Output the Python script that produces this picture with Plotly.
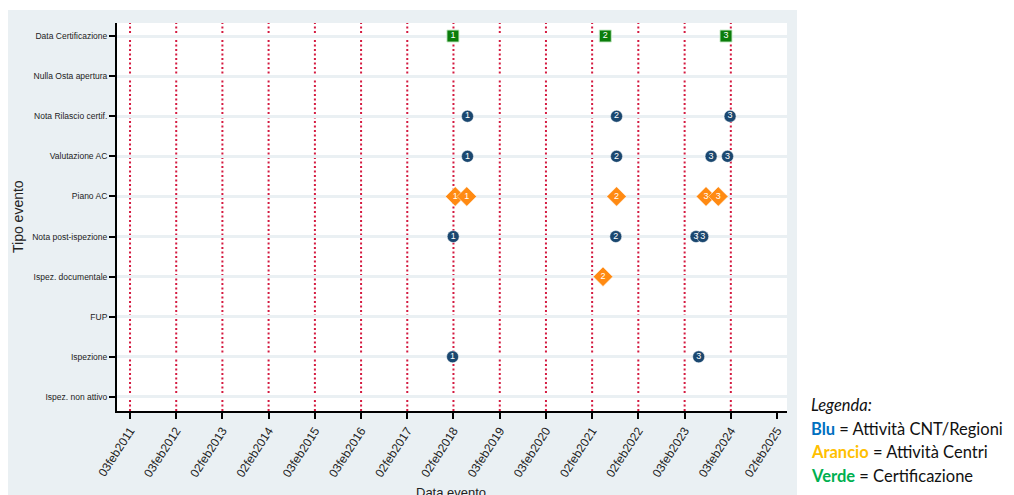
import plotly.graph_objects as go

# ---- categories (bottom to top) ----
tipi_evento = ["Ispez. non attivo", "Ispezione", "FUP", "Ispez. documentale",
               "Nota post-ispezione", "Piano AC", "Valutazione AC",
               "Nota Rilascio certif.", "Nulla Osta apertura", "Data Certificazione"]

# ---- x ticks ----
tick_date = ["2011-02-03", "2012-02-03", "2013-02-02", "2014-02-02", "2015-02-03",
             "2016-02-03", "2017-02-02", "2018-02-02", "2019-02-03", "2020-02-03",
             "2021-02-02", "2022-02-02", "2023-02-03", "2024-02-03", "2025-02-02"]
tick_label = ["03feb2011", "03feb2012", "02feb2013", "02feb2014", "03feb2015",
              "03feb2016", "02feb2017", "02feb2018", "03feb2019", "03feb2020",
              "02feb2021", "02feb2022", "03feb2023", "03feb2024", "02feb2025"]
linee_rif = tick_date[:-1]   # red dotted reference lines
x_range = ["2010-10-23", "2025-04-22"]

# ---- Blu: Attività CNT/Regioni ----
blu_tipo = ["Nota Rilascio certif.", "Nota Rilascio certif.", "Nota Rilascio certif.",
            "Valutazione AC", "Valutazione AC", "Valutazione AC", "Valutazione AC",
            "Nota post-ispezione", "Nota post-ispezione", "Nota post-ispezione", "Nota post-ispezione",
            "Ispezione", "Ispezione"]
blu_data = ["2018-05-24", "2021-08-14", "2024-01-28",
            "2018-05-24", "2021-08-14", "2023-08-31", "2024-01-08",
            "2018-01-31", "2021-08-08", "2023-05-04", "2023-06-26",
            "2018-01-26", "2023-05-25"]
blu_num = ["1", "2", "3", "1", "2", "3", "3", "1", "2", "3", "3", "1", "3"]

# ---- Arancio: Attività Centri ----
arancio_tipo = ["Piano AC", "Piano AC", "Piano AC", "Piano AC", "Piano AC", "Ispez. documentale"]
arancio_data = ["2018-02-16", "2018-05-18", "2021-08-14", "2023-07-22", "2023-10-27", "2021-04-29"]
arancio_num = ["1", "1", "2", "3", "3", "2"]

# ---- Verde: Certificazione ----
verde_tipo = ["Data Certificazione", "Data Certificazione", "Data Certificazione"]
verde_data = ["2018-01-29", "2021-05-17", "2023-12-27"]
verde_num = ["1", "2", "3"]

# ---- layout geometry (page pixels; page body has an 8px margin) ----
OFF = 8
W, H = 1014 - OFF, 495 - OFF
PL, PR, PT, PB = 117 - OFF, 787 - OFF, 23 - OFF, 411 - OFF
pw, ph = PR - PL, PB - PT


def px_x(px):
    return (px - OFF - PL) / pw


def px_y(py):
    return (PB - (py - OFF)) / ph


BG = "#eaf0f3"
fig = go.Figure()

num_font = dict(family="Liberation Sans, Arial", size=9, color="white")

fig.add_trace(go.Scatter(
    x=blu_data, y=blu_tipo, mode="markers+text", text=blu_num,
    textposition="middle center", textfont=num_font,
    marker=dict(symbol="circle", size=12, color="#1a476f",
                line=dict(color="rgba(255,255,255,0.6)", width=0.8)),
    hoverinfo="x+y", showlegend=False))

fig.add_trace(go.Scatter(
    x=arancio_data, y=arancio_tipo, mode="markers+text", text=arancio_num,
    textposition="middle center", textfont=num_font,
    marker=dict(symbol="diamond", size=15, color="#ff8a12",
                line=dict(color="rgba(255,255,255,0.6)", width=0.8)),
    hoverinfo="x+y", showlegend=False))

fig.add_trace(go.Scatter(
    x=verde_data, y=verde_tipo, mode="markers+text", text=verde_num,
    textposition="middle center", textfont=num_font,
    marker=dict(symbol="square", size=12, color="#0b7d0b",
                line=dict(color="rgba(200,235,200,0.9)", width=1)),
    hoverinfo="x+y", showlegend=False))

shapes = [
    dict(type="rect", xref="paper", yref="paper", layer="below",
         x0=px_x(5), x1=px_x(797), y0=px_y(H + 40), y1=px_y(10),
         fillcolor=BG, line=dict(width=0)),
    dict(type="rect", xref="paper", yref="paper", layer="below",
         x0=0, x1=1, y0=0, y1=1, fillcolor="white", line=dict(width=0)),
]
for d in linee_rif:
    shapes.append(dict(type="line", xref="x", yref="paper", layer="below",
                       x0=d, x1=d, y0=0, y1=1,
                       line=dict(color="#d41a40", width=2, dash="2px,2.5px")))

annotations = [
    dict(text="Tipo evento", xref="paper", yref="paper", x=px_x(18), y=px_y(217),
         textangle=-90, showarrow=False, xanchor="center", yanchor="middle",
         font=dict(family="Liberation Sans, Arial", size=14, color="#222")),
    dict(text="Data evento", xref="paper", yref="paper", x=px_x(451), y=px_y(483),
         showarrow=False, xanchor="center", yanchor="top",
         font=dict(family="Liberation Sans, Arial", size=13, color="#222")),
]
leg_font = dict(family="Lato, Carlito, Liberation Sans", size=16.5, color="#111")
legenda = [
    ("<i>Legenda:</i>", 405),
    ("<b><span style='color:#0070C0'>Blu</span></b> = Attività CNT/Regioni", 429),
    ("<b><span style='color:#FFC000'>Arancio</span></b> = Attività Centri", 452),
    ("<b><span style='color:#00B050'>Verde</span></b> = Certificazione", 476),
]
for t, yy in legenda:
    annotations.append(dict(text=t, xref="paper", yref="paper", x=px_x(809), y=px_y(yy),
                            showarrow=False, xanchor="left", yanchor="middle",
                            font=leg_font))

fig.update_layout(
    width=W, height=H,
    margin=dict(l=PL, r=W - PR, t=PT, b=H - PB),
    paper_bgcolor="white", plot_bgcolor="white",
    shapes=shapes, annotations=annotations, showlegend=False,
    xaxis=dict(type="date", range=x_range, tickvals=tick_date, ticktext=tick_label,
               tickangle=-57, showgrid=False, zeroline=False,
               showline=True, linecolor="black", linewidth=2,
               ticks="outside", ticklen=6, tickwidth=2, tickcolor="black",
               tickfont=dict(family="Liberation Sans, Arial", size=12, color="#222"),
               automargin=False),
    yaxis=dict(type="category", categoryorder="array", categoryarray=tipi_evento,
               range=[-0.35, len(tipi_evento) - 1 + 0.325],
               showgrid=True, gridcolor=BG, gridwidth=2.5, zeroline=False,
               showline=True, linecolor="black", linewidth=2,
               ticks="outside", ticklen=6, tickwidth=2, tickcolor="black",
               tickfont=dict(family="Liberation Sans, Arial", size=8.5, color="#222"),
               automargin=False),
)

fig.write_html("out.html")
